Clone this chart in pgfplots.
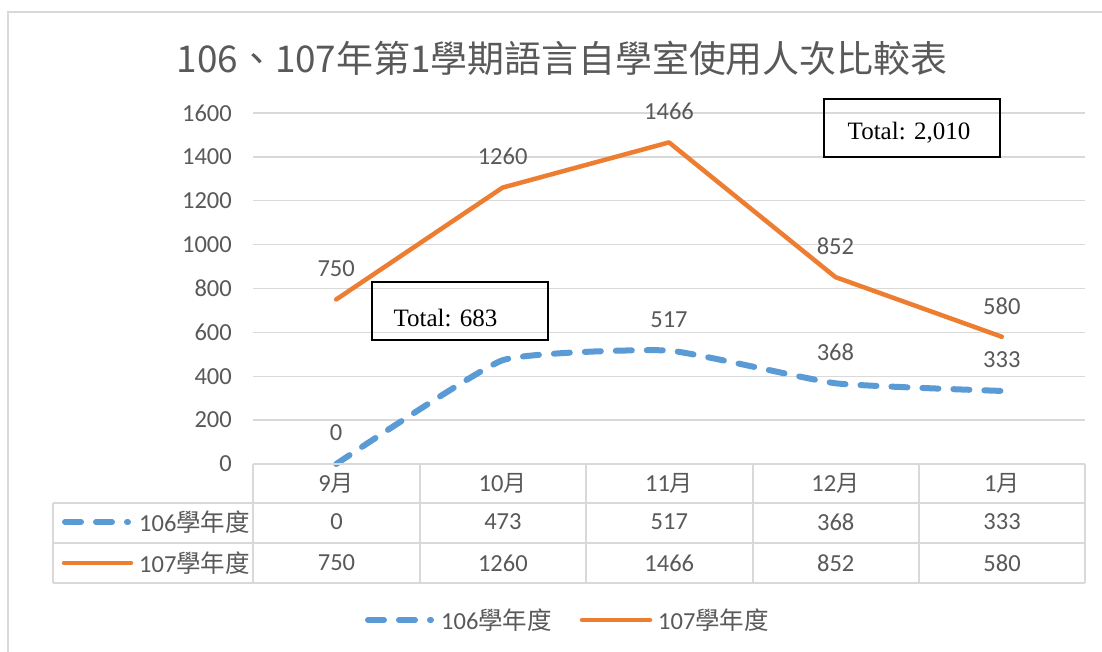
\documentclass[border=0pt]{standalone}
\usepackage{fontspec}
\usepackage{pgfplots}
\pgfplotsset{compat=1.18}
\newfontfamily\carlitof{Carlito}
\newfontfamily\cjkf{Noto Sans CJK TC}
\newfontfamily\timesf{Liberation Serif}
\definecolor{gridgray}{HTML}{D9D9D9}
\definecolor{txt}{HTML}{595959}
\definecolor{sblue}{HTML}{5B9BD5}
\definecolor{sorange}{HTML}{ED7D31}
\newcommand\numf{\carlitof\fontsize{24.5}{24.5}\selectfont}
\newcommand\mon[1]{{\carlitof #1}{\cjkf\fontsize{23}{23}\selectfont 月}}
\newcommand\yr[1]{{\carlitof #1}{\cjkf\fontsize{24.5}{24.5}\selectfont 學年度}}
\tikzset{
  bluedash/.style={sblue, line width=6pt, line cap=round, dash pattern=on 16pt off 15pt},
  orangeline/.style={sorange, line width=4.5pt, line cap=round, line join=round},
}
\begin{document}
\begin{tikzpicture}[x=1pt,y=1pt]
\useasboundingbox[fill=white] (0,0) rectangle (1102,651);
\draw[gridgray, line width=1.5pt] (8,-10) -- (8,639) -- (1120,639);
% title
\node[font=\cjkf\fontsize{36.9}{36.9}\selectfont, text=txt] at (562,593) {106、107年第1學期語言自學室使用人次比較表};
\begin{axis}[
  at={(253pt,187pt)}, anchor=south west, scale only axis,
  width=832pt, height=351pt,
  xmin=-0.5, xmax=4.5, ymin=0, ymax=1600, clip=false,
  axis line style={draw=none}, major tick length=0pt,
  ytick={0,200,...,1600}, ymajorgrids,
  grid style={gridgray, line width=1.5pt},
  xtick={0,...,4},
  xticklabels={\mon{9},\mon{10},\mon{11},\mon{12},\mon{1}},
  xticklabel style={anchor=center, yshift=-19pt, font=\numf, text=txt},
  yticklabel style={anchor=east, inner sep=0pt, xshift=-21pt, font=\numf, text=txt},
  /pgf/number format/assume math mode=true,
  /pgf/number format/1000 sep={},
]
% 106 series
\addplot[bluedash, smooth, tension=0.25] coordinates {(0,0) (1,473) (2,517) (3,368) (4,333)};
% 107 series
\addplot[orangeline] coordinates {(0,750) (1,1260) (2,1466) (3,852) (4,580)};
% data labels
\addplot[draw=none, nodes near coords,
  every node near coord/.append style={anchor=center, yshift=31pt, font=\numf, text=txt}]
  coordinates {(0,0) (2,517) (3,368) (4,333)};
\addplot[draw=none, nodes near coords,
  every node near coord/.append style={anchor=center, yshift=31pt, font=\numf, text=txt}]
  coordinates {(0,750) (1,1260) (2,1466) (3,852) (4,580)};
\end{axis}
% data table
\begin{scope}[gridgray, line width=1.5pt]
  \draw (253,187) -- (1085,187);
  \draw (53,148) -- (1085,148);
  \draw (53,108) -- (1085,108);
  \draw (53,68) -- (1085,68);
  \draw (53,148) -- (53,68);
  \foreach \x in {253,420,586,753,919,1085} \draw (\x,187) -- (\x,68);
\end{scope}
\foreach \v [count=\i from 0] in {0,473,517,368,333}
  \node[font=\numf, text=txt, inner sep=0pt] at (336.5+166.4*\i,129) {\v};
\foreach \v [count=\i from 0] in {750,1260,1466,852,580}
  \node[font=\numf, text=txt, inner sep=0pt] at (336.5+166.4*\i,88) {\v};
\draw[bluedash] (65,129) -- (128,129);
\node[anchor=west, inner sep=0pt, font=\numf, text=txt] at (139,129) {\yr{106}};
\draw[orangeline] (64,88) -- (131,88);
\node[anchor=west, inner sep=0pt, font=\numf, text=txt] at (139,88) {\yr{107}};
% legend
\draw[bluedash] (368,31) -- (431,31);
\node[anchor=west, inner sep=0pt, font=\numf, text=txt] at (441,31) {\yr{106}};
\draw[orangeline] (582,31) -- (650,31);
\node[anchor=west, inner sep=0pt, font=\numf, text=txt] at (658,31) {\yr{107}};
% total boxes
\draw[black, line width=1.5pt] (824,552) rectangle (1000,494);
\node[font=\timesf\fontsize{25}{25}\selectfont] at (909,518) {Total: 2,010};
\draw[black, line width=1.5pt] (372,369) rectangle (548,311);
\node[font=\timesf\fontsize{25}{25}\selectfont] at (445.5,333) {Total: 683};
\end{tikzpicture}
\end{document}
